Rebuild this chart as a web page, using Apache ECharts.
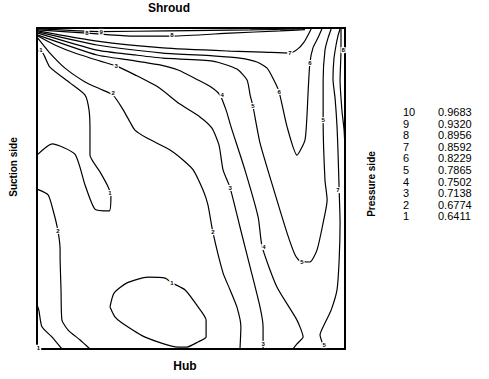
<!DOCTYPE html>
<html>
<head>
<meta charset="utf-8">
<script src="https://cdn.jsdelivr.net/npm/echarts@6/dist/echarts.min.js"></script>
<style>
  html, body { margin: 0; padding: 0; background: #fff; }
  #chart { width: 489px; height: 379px; }
</style>
</head>
<body>
<div id="chart"></div>
<script>
// Contour lines of the passage field: x = pitch (suction 0 -> pressure 100),
// y = span (hub 0 -> shroud 100). Each array is one traced iso-line.
const levelNumbers = [10, 9, 8, 7, 6, 5, 4, 3, 2, 1];
const levelValues = ['0.9683', '0.9320', '0.8956', '0.8592', '0.8229', '0.7865', '0.7502', '0.7138', '0.6774', '0.6411'];

const line9Top = [[0.3,99.7],[20.5,98.9],[42.9,99.1],[69.2,99.4],[85.4,99.7]];
const line8Top = [[0.3,99.4],[16.2,98.4],[30.2,97.5],[43.8,97.5],[62.7,98.4],[78.9,99.1],[87.0,99.5]];
const line7Top = [[0.3,99.1],[19.5,95.9],[40.9,93.8],[62.7,92.8],[73.4,92.5],[82.1,92.2],[84.7,93.5],[86.7,95.6],[88.0,97.8],[89.0,99.7]];
const line6Vee = [[0.3,98.8],[19.5,94.7],[40.9,92.2],[57.1,91.3],[65.9,90.6],[71.4,89.4],[74.7,87.5],[76.9,83.8],[78.6,80.1],[81.2,69.2],[84.4,60.4],[87.0,65.1],[87.7,73.5],[88.0,79.7],[88.6,89.1],[89.6,93.8],[91.2,96.9],[92.5,99.7]];
const line5Loop = [[0.3,98.4],[19.5,93.1],[31.8,91.6],[40.9,90.6],[57.1,89.7],[64.9,87.2],[68.2,83.8],[69.2,79.1],[70.1,75.7],[72.4,64.2],[76.6,50.5],[81.2,36.1],[83.8,29.3],[85.4,27.4],[88.6,27.1],[90.9,30.8],[92.9,39.3],[94.2,46.4],[93.5,52.6],[92.9,71.3],[92.9,83.8],[93.5,93.1],[94.5,96.9],[95.5,99.7]];
const line4 = [[0.3,97.8],[19.5,91.6],[30.2,90.0],[39.9,88.5],[45.8,86.9],[52.3,83.8],[56.5,81.6],[59.4,79.1],[61.4,74.4],[63.0,69.2],[67.5,55.8],[71.8,41.1],[73.1,31.8],[77.9,19.3],[84.4,9.0],[86.4,3.7],[84.4,1.6],[83.1,0]];
const line3 = [[0.3,97.5],[5.8,94.7],[12.3,92.2],[20.5,89.7],[25.7,88.2],[31.8,85.4],[39.3,81.6],[46.4,76.3],[52.9,72.3],[56.8,68.8],[59.1,63.5],[60.4,55.8],[62.7,50.2],[65.9,38.0],[69.2,25.5],[72.4,13.1],[73.4,6.9],[73.4,0]];
const line2Mid = [[0.2,96.9],[3.9,92.5],[9.1,87.5],[15.6,83.2],[20.5,81.0],[24.7,79.1],[27.6,75.1],[30.2,70.7],[31.8,68.2],[35.7,65.7],[43.2,62.0],[47.4,58.9],[50.7,55.8],[53.9,49.5],[55.5,44.9],[57.1,36.4],[60.4,23.7],[62.7,18.4],[64.9,13.1],[66.2,6.9],[65.9,0]];
const line1Tongue = [[0,93.1],[1.9,92.2],[4.2,87.8],[10.7,82.9],[15.6,79.1],[16.9,74.4],[17.2,68.2],[17.2,60.4],[20.5,55.1],[23.1,50.5],[24.0,47.7],[23.4,43.0],[18.8,43.6],[15.6,51.1],[12.3,60.7],[4.9,63.9],[0,60.4]];
const line2Left = [[0,49.8],[3.6,48.0],[5.2,43.3],[6.8,36.8],[7.5,30.8],[7.5,28.7],[7.8,18.4],[8.1,9.0],[10.1,5.9],[14.0,2.8],[17.2,0]];
const line1Corner = [[0,13.7],[0.6,12.1],[1.6,6.9],[4.9,3.7],[8.1,0]];
const line1Island = [[23.7,13.1],[25.0,17.4],[29.2,20.6],[36.0,22.4],[41.6,22.1],[43.8,20.6],[48.1,18.4],[52.3,13.1],[54.9,9.0],[54.9,3.7],[52.3,2.2],[48.7,0.6],[45.8,0.6],[35.1,3.7],[27.6,8.1],[25.3,10.0],[23.7,13.1]];
const line7Right = [[93.2,0],[92.5,2.2],[91.9,4.4],[93.5,8.1],[95.5,12.1],[97.4,18.4],[98.1,27.7],[98.4,39.3],[98.1,49.5],[97.7,62.3],[97.4,69.5],[96.8,77.9],[96.1,84.1],[96.4,90.3],[97.1,94.7],[97.7,97.5],[98.4,99.7]];
const line8Wall = [[98.7,99.7],[98.7,93.1],[98.4,83.8],[99.0,74.4],[99.7,68.2],[100,62.0]];

// In-line level labels: [x, y, text]
const contourLabels = [
  [1.3,93.1,'1'],[16.2,98.4,'8'],[20.8,98.8,'9'],[43.8,97.8,'8'],[82.1,92.2,'7'],
  [25.7,88.2,'3'],[24.7,79.7,'2'],[60.1,79.1,'4'],[70.1,75.7,'5'],[78.6,80.1,'6'],
  [88.6,89.1,'6'],[92.9,71.3,'5'],[97.7,49.5,'7'],[99.4,93.1,'8'],[62.7,50.2,'3'],
  [57.1,36.4,'2'],[73.7,31.8,'4'],[86.0,27.1,'5'],[23.7,48.6,'1'],[6.8,36.8,'2'],
  [43.8,20.6,'1'],[0.5,0.4,'1'],[73.4,1.6,'3'],[93.2,1.2,'5']
];

const contourLines = [line9Top, line8Top, line7Top, line6Vee, line5Loop, line4, line3,
  line2Mid, line1Tongue, line2Left, line1Corner, line1Island, line7Right, line8Wall];

const chart = echarts.init(document.getElementById('chart'), null, { renderer: 'svg' });

const series = contourLines.map(pts => ({
  type: 'line',
  data: pts,
  showSymbol: false,
  smooth: 0.2,
  silent: true,
  lineStyle: { color: '#000', width: 1.2 },
  z: 2
}));

// Level numbers written on the iso-lines, with a small white gap behind each
series.push({
  type: 'custom',
  data: contourLabels.map(d => [d[0], d[1]]),
  silent: true,
  z: 5,
  renderItem: (params, api) => {
    const p = api.coord([api.value(0), api.value(1)]);
    return {
      type: 'text',
      x: p[0],
      y: p[1],
      style: {
        text: contourLabels[params.dataIndex][2],
        fill: '#000',
        font: 'bold 6px "Liberation Sans", Arial, sans-serif',
        align: 'center',
        verticalAlign: 'middle',
        backgroundColor: '#fff',
        padding: [0, 1]
      }
    };
  }
});

// Level table to the right of the plot
const legendFont = '11px "Liberation Sans", Arial, sans-serif';
const legendTexts = [];
levelNumbers.forEach((n, i) => {
  const y = 112 + i * 11.6;
  legendTexts.push({
    type: 'text', x: 403, y: y,
    style: { text: String(n), font: legendFont, fill: '#000', textVerticalAlign: 'middle' }
  });
  legendTexts.push({
    type: 'text', x: 438, y: y,
    style: { text: levelValues[i], font: legendFont, fill: '#000', textVerticalAlign: 'middle' }
  });
});

const axisTitleFont = 'bold 12px "Liberation Sans", Arial, sans-serif';
const sideTitleFont = 'bold 10px "Liberation Sans", Arial, sans-serif';

chart.setOption({
  animation: false,
  backgroundColor: '#fff',
  grid: { left: 37, top: 28, width: 308, height: 321, show: true, borderColor: '#000', borderWidth: 2, backgroundColor: 'transparent' },
  xAxis: { type: 'value', min: 0, max: 100, show: false },
  yAxis: { type: 'value', min: 0, max: 100, show: false },
  series: series,
  graphic: [
    { type: 'text', x: 169, y: 8, style: { text: 'Shroud', font: axisTitleFont, fill: '#000', textAlign: 'center', textVerticalAlign: 'middle' } },
    { type: 'text', x: 185, y: 366, style: { text: 'Hub', font: axisTitleFont, fill: '#000', textAlign: 'center', textVerticalAlign: 'middle' } },
    { type: 'text', x: 13, y: 167, rotation: Math.PI / 2, style: { text: 'Suction side', font: sideTitleFont, fill: '#000', textAlign: 'center', textVerticalAlign: 'middle' } },
    { type: 'text', x: 371, y: 184, rotation: Math.PI / 2, style: { text: 'Pressure side', font: sideTitleFont, fill: '#000', textAlign: 'center', textVerticalAlign: 'middle' } }
  ].concat(legendTexts)
});
</script>
</body>
</html>
